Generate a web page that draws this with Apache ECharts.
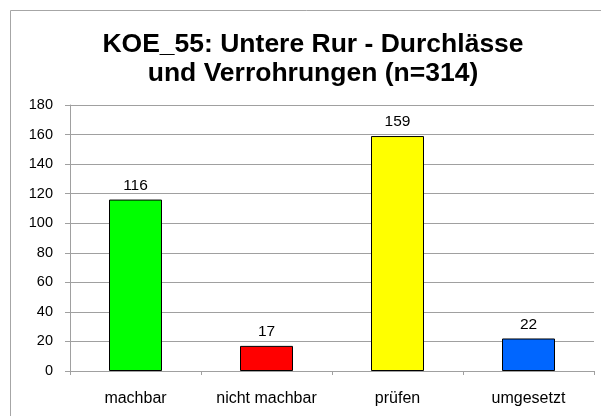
<!DOCTYPE html>
<html>
<head>
<meta charset="utf-8">
<script src="https://cdn.jsdelivr.net/npm/echarts@6/dist/echarts.min.js"></script>
<style>
  html, body { margin: 0; padding: 0; background: #fff; }
  #chart { width: 601px; height: 416px; }
</style>
</head>
<body>
<div id="chart"></div>
<script>
// Daten
const kategorien = ['machbar', 'nicht machbar', 'prüfen', 'umgesetzt'];
const werte = [116, 17, 159, 22];
const farben = ['#00ff00', '#ff0000', '#ffff00', '#0066ff'];

const schrift = 'Liberation Sans, Arial';

const myChart = echarts.init(document.getElementById('chart'));
myChart.setOption({
    animation: false,
    backgroundColor: '#ffffff',
    // Rahmen um das Diagramm
    graphic: [{
        type: 'rect',
        shape: { x: 10.5, y: 10.5, width: 700, height: 500 },
        style: { fill: 'none', stroke: '#a6a6a6', lineWidth: 1 }
    }],
    title: {
        text: 'KOE_55: Untere Rur - Durchlässe\nund Verrohrungen (n=314)',
        left: 308,
        textAlign: 'center',
        top: 25,
        textStyle: {
            fontFamily: schrift,
            fontSize: 26.5,
            fontWeight: 'bold',
            color: '#000',
            lineHeight: 29
        }
    },
    grid: { left: 70, right: 7, top: 105, bottom: 45 },
    xAxis: {
        type: 'category',
        data: kategorien,
        axisLine: { lineStyle: { color: '#a0a0a0' } },
        axisTick: { show: true, length: 4, lineStyle: { color: '#a0a0a0' } },
        axisLabel: {
            color: '#000',
            fontFamily: schrift,
            fontSize: 16,
            margin: 20
        }
    },
    yAxis: {
        type: 'value',
        min: 0,
        max: 180,
        interval: 20,
        axisLine: { show: true, lineStyle: { color: '#a0a0a0' } },
        axisTick: { show: true, length: 5, lineStyle: { color: '#a0a0a0' } },
        splitLine: { lineStyle: { color: '#a0a0a0' } },
        axisLabel: {
            color: '#000',
            fontFamily: schrift,
            fontSize: 14.5,
            margin: 17
        }
    },
    series: [{
        type: 'bar',
        data: werte.map((v, i) => ({ value: v, itemStyle: { color: farben[i] } })),
        barWidth: 53,
        itemStyle: { borderColor: '#000', borderWidth: 1 },
        label: {
            show: true,
            position: 'top',
            distance: 6,
            color: '#000',
            fontFamily: schrift,
            fontSize: 15.5
        }
    }]
});
</script>
</body>
</html>
